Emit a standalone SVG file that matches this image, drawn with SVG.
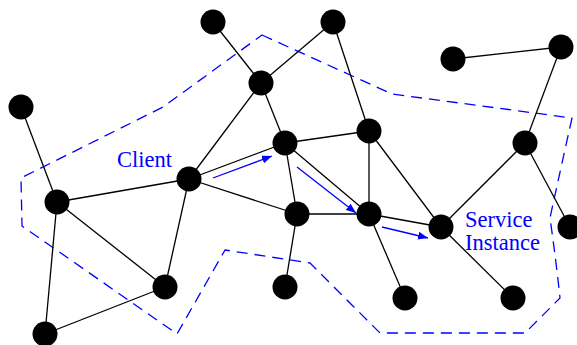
<svg xmlns="http://www.w3.org/2000/svg" width="577" height="345" viewBox="0 0 577 345">
  <defs>
    <style>
      .edge { stroke: #000; stroke-width: 1.3; fill: none; }
      .node { fill: #000; }
      .flow { stroke: #0000ff; stroke-width: 1.3; fill: none; }
      .zone { stroke: #0000ff; stroke-width: 1.3; fill: none; stroke-dasharray: 11 7; stroke-linejoin: round; }
      .label { font-family: "Liberation Serif", "Times New Roman", serif; font-size: 22.5px; fill: #0000ff; }
    </style>
    <marker id="arrowhead" viewBox="0 0 10 8" refX="10" refY="4" markerWidth="10" markerHeight="8" markerUnits="userSpaceOnUse" orient="auto">
      <path d="M0,0 L10,4 L0,8 z" fill="#0000ff"/>
    </marker>
  </defs>

  <rect width="577" height="345" fill="#fff"/>

  <!-- service zone boundary -->
  <path class="zone" d="M262,35 L392,94 L572,118 Q556,190 550,218 Q556,260 560,298 L525,333 L380,333 L310,263 L225,250 L177,334 L22,226 L21,178 L163,107 Z"/>

  <g id="connectors">
    <line class="edge" x1="213" y1="22" x2="261" y2="83"/>
    <line class="edge" x1="333" y1="22" x2="261" y2="83"/>
    <line class="edge" x1="333" y1="22" x2="369" y2="131"/>
    <line class="edge" x1="261" y1="83" x2="189" y2="179"/>
    <line class="edge" x1="261" y1="83" x2="285" y2="143"/>
    <line class="edge" x1="21" y1="107" x2="57" y2="202"/>
    <line class="edge" x1="453" y1="59" x2="561" y2="47"/>
    <line class="edge" x1="561" y1="47" x2="525" y2="143"/>
    <line class="edge" x1="525" y1="143" x2="441" y2="227"/>
    <line class="edge" x1="525" y1="143" x2="570" y2="227"/>
    <line class="edge" x1="285" y1="143" x2="369" y2="131"/>
    <line class="edge" x1="285" y1="143" x2="297" y2="214"/>
    <line class="edge" x1="285" y1="143" x2="369" y2="214"/>
    <line class="edge" x1="369" y1="131" x2="369" y2="214"/>
    <line class="edge" x1="369" y1="131" x2="441" y2="227"/>
    <line class="edge" x1="189" y1="179" x2="285" y2="143"/>
    <line class="edge" x1="189" y1="179" x2="57" y2="202"/>
    <line class="edge" x1="189" y1="179" x2="297" y2="214"/>
    <line class="edge" x1="189" y1="179" x2="165" y2="287"/>
    <line class="edge" x1="57" y1="202" x2="165" y2="287"/>
    <line class="edge" x1="57" y1="202" x2="45" y2="334"/>
    <line class="edge" x1="45" y1="334" x2="165" y2="287"/>
    <line class="edge" x1="297" y1="214" x2="369" y2="214"/>
    <line class="edge" x1="297" y1="214" x2="285" y2="287"/>
    <line class="edge" x1="369" y1="214" x2="441" y2="227"/>
    <line class="edge" x1="369" y1="214" x2="405" y2="298"/>
    <line class="edge" x1="441" y1="227" x2="513" y2="298"/>
    <!-- request path -->
    <line class="flow" x1="213" y1="178" x2="272" y2="156" marker-end="url(#arrowhead)"/>
    <line class="flow" x1="297" y1="167" x2="356" y2="213" marker-end="url(#arrowhead)"/>
    <line class="flow" x1="382" y1="227" x2="428" y2="238" marker-end="url(#arrowhead)"/>
  </g>

  <g id="n1"><circle class="node" cx="213" cy="22" r="12.5"/></g>
  <g id="n2"><circle class="node" cx="333" cy="22" r="12.5"/></g>
  <g id="n3"><circle class="node" cx="261" cy="83" r="12.5"/></g>
  <g id="n4"><circle class="node" cx="21" cy="107" r="12.5"/></g>
  <g id="n5"><circle class="node" cx="453" cy="59" r="12.5"/></g>
  <g id="n6"><circle class="node" cx="561" cy="47" r="12.5"/></g>
  <g id="n7"><circle class="node" cx="285" cy="143" r="12.5"/></g>
  <g id="n8"><circle class="node" cx="369" cy="131" r="12.5"/></g>
  <g id="n9"><circle class="node" cx="525" cy="143" r="12.5"/></g>
  <g id="client"><circle class="node" cx="189" cy="179" r="12.5"/>
    <text class="label" x="117" y="167">Client</text></g>
  <g id="n11"><circle class="node" cx="57" cy="202" r="12.5"/></g>
  <g id="n12"><circle class="node" cx="297" cy="214" r="12.5"/></g>
  <g id="n13"><circle class="node" cx="369" cy="214" r="12.5"/></g>
  <g id="service-instance"><circle class="node" cx="441" cy="227" r="12.5"/>
    <text class="label" x="465" y="227">Service</text>
    <text class="label" x="465" y="250">Instance</text></g>
  <g id="n15"><circle class="node" cx="570" cy="227" r="12.5"/></g>
  <g id="n16"><circle class="node" cx="165" cy="287" r="12.5"/></g>
  <g id="n17"><circle class="node" cx="285" cy="287" r="12.5"/></g>
  <g id="n18"><circle class="node" cx="405" cy="298" r="12.5"/></g>
  <g id="n19"><circle class="node" cx="513" cy="298" r="12.5"/></g>
  <g id="n20"><circle class="node" cx="45" cy="334" r="12.5"/></g>
</svg>
